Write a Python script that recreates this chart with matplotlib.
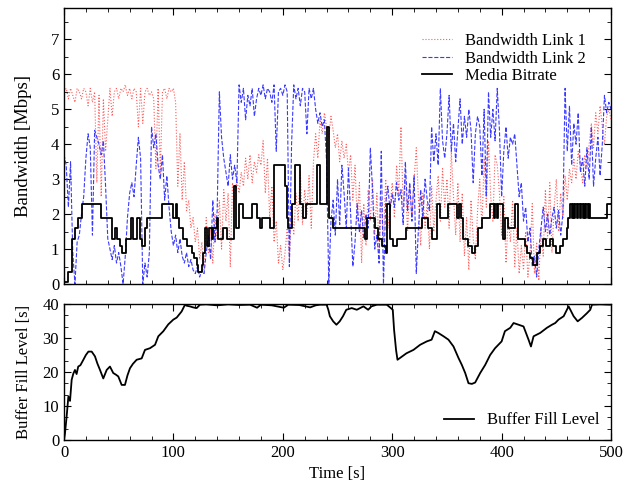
import matplotlib
matplotlib.use('Agg')
import matplotlib.pyplot as plt
import numpy as np
from matplotlib.ticker import MultipleLocator, AutoMinorLocator

plt.rcParams['font.family'] = 'Liberation Serif'
plt.rcParams['font.size'] = 12

# bandwidth samples, every 2 s from 0 to 500
bw_time = list(range(0, 501, 2))
bw_link1 = [
    5.5, 5.6, 5.3, 5.6, 5.4, 5.2, 5.6, 5.5, 5.3, 5.6,
    5.5, 5.1, 5.6, 5.2, 5.5, 2.9, 5.4, 2.5, 5.3, 3.8,
    4.7, 5.6, 4.8, 5.5, 5.6, 5.3, 5.6, 5.5, 5.7, 5.4,
    5.6, 5.3, 5.6, 5.5, 4.5, 5.6, 4.6, 5.5, 5.6, 5.4,
    5.5, 5.3, 3.3, 5.6, 3.2, 5.5, 5.6, 5.3, 5.6, 5.5,
    5.6, 5.2, 2.8, 4.3, 2.4, 3.5, 2.1, 2.4, 1.6, 1.9,
    1.2, 1.6, 0.7, 1.2, 0.4, 1.9, 0.9, 1.6, 0.6, 2.0,
    1.3, 2.4, 1.0, 2.7, 1.8, 2.6, 0.5, 2.9, 2.4, 3.0,
    2.6, 3.2, 2.8, 3.6, 3.0, 3.7, 2.9, 3.5, 3.2, 3.7,
    3.4, 4.1, 2.6, 3.6, 1.9, 2.8, 1.2, 1.8, 0.6, 1.1,
    0.4, 0.9, 1.6, 0.7, 2.2, 1.4, 2.6, 1.8, 3.2, 1.7,
    2.7, 2.0, 3.1, 1.6, 3.5, 4.3, 3.6, 4.7, 4.3, 4.9,
    4.5, 4.2, 4.8, 4.4, 3.9, 4.3, 3.5, 4.1, 3.6, 4.0,
    3.2, 3.7, 2.4, 3.4, 1.8, 2.9, 0.6, 2.3, 1.1, 2.7,
    1.8, 3.0, 1.4, 2.6, 0.9, 2.4, 1.2, 3.0, 1.6, 2.2,
    2.9, 1.9, 3.4, 2.6, 4.5, 2.2, 3.1, 1.5, 2.8, 2.0,
    3.0, 3.9, 2.4, 1.1, 2.6, 1.6, 2.3, 1.0, 2.8, 1.5,
    2.4, 3.1, 1.8, 3.3, 2.2, 3.0, 1.6, 3.8, 2.5, 1.4,
    2.9, 1.2, 2.6, 0.8, 1.9, 0.4, 2.4, 1.3, 0.7, 2.1,
    3.0, 1.6, 3.6, 2.2, 4.1, 2.5, 1.8, 3.7, 3.4, 2.6,
    1.4, 2.5, 0.6, 1.9, 1.2, 2.4, 0.5, 1.6, 0.3, 1.1,
    0.4, 1.5, 0.2, 0.9, 2.3, 0.3, 1.2, 0.1, 1.6, 0.8,
    2.7, 1.3, 2.9, 0.9, 2.2, 3.0, 1.5, 2.6, 1.9, 3.1,
    2.4, 3.3, 2.9, 3.6, 3.0, 3.8, 3.4, 2.9, 3.7, 3.3,
    4.0, 4.6, 3.9, 4.9, 4.3, 5.1, 4.5, 4.0, 4.8, 5.0,
    4.7,
]
bw_link2 = [
    3.7, 3.4, 2.2, 3.5, 0.9, 0.0, 1.2, 1.4, 2.0, 2.5,
    3.6, 4.3, 3.9, 1.4, 4.4, 4.2, 4.0, 3.7, 4.1, 2.8,
    1.3, 1.0, 0.7, 1.1, 0.6, 0.9, 0.5, 0.0, 0.8, 1.9,
    2.6, 2.9, 2.5, 3.4, 4.2, 3.6, 0.0, 0.6, 0.2, 0.9,
    4.5, 3.9, 4.3, 3.4, 3.0, 3.7, 2.4, 3.1, 2.2, 1.5,
    1.1, 1.4, 0.9, 1.3, 0.8, 0.6, 0.9, 0.5, 0.7, 0.4,
    0.3, 0.5, 0.2, 0.4, 0.3, 0.9, 1.4, 0.7, 2.4, 1.2,
    2.1, 5.5, 4.2, 3.6, 3.2, 2.8, 3.7, 3.0, 3.4, 2.9,
    5.7, 5.2, 5.6, 4.7, 5.4, 5.1, 5.6, 4.8, 5.3, 5.6,
    5.4, 5.7, 5.3, 5.6, 5.5, 5.2, 5.7, 3.8, 5.5, 5.6,
    5.4, 5.7, 5.5, 0.5, 4.0, 5.7, 5.3, 5.6, 5.1, 5.6,
    5.5, 4.3, 5.6, 5.3, 5.6, 5.0, 4.6, 4.9, 4.5, 4.7,
    3.5, 0.0, 1.8, 2.4, 1.4, 3.0, 1.7, 3.4, 2.6, 1.6,
    3.3, 2.0, 0.5, 1.2, 2.3, 1.5, 2.1, 1.3, 2.0, 1.6,
    3.9, 2.7, 1.0, 1.4, 0.6, 3.8, 0.0, 2.3, 2.8, 2.1,
    2.6, 2.2, 2.9, 2.4, 2.7, 1.7, 3.5, 2.1, 2.9, 1.8,
    3.1, 0.3, 1.6, 2.7, 1.9, 3.0, 2.4, 2.1, 4.5, 3.5,
    4.3, 3.4, 5.6, 4.1, 3.6, 4.3, 5.4, 3.8, 4.6, 3.5,
    4.4, 5.3, 4.0, 4.8, 4.2, 5.0, 4.4, 2.9, 4.3, 4.8,
    4.5, 3.1, 5.0, 2.5, 5.5, 4.2, 5.0, 4.1, 5.6, 4.4,
    2.5, 3.8, 4.5, 3.6, 4.2, 4.0, 4.3, 3.4, 2.5, 2.9,
    1.8, 2.2, 1.2, 1.6, 0.5, 0.8, 0.2, 1.0, 1.6, 2.2,
    1.5, 2.0, 1.4, 1.9, 2.2, 1.6, 2.1, 1.4, 2.0, 5.6,
    3.8, 5.1, 3.4, 4.6, 4.0, 4.9, 3.2, 3.6, 2.8, 3.9,
    3.0, 4.5, 2.8, 3.6, 4.2, 3.1, 4.0, 5.4, 4.9, 5.2,
    5.0,
]

# media bitrate: switch times [s] and level [Mbps]
br_time = [
    0, 4, 7, 10.5, 13, 16, 33.5, 43.6, 46.6, 48.8,
    51.2, 52.7, 56.7, 60.9, 62.8, 67, 69.5, 71, 74, 76.2,
    89.3, 100, 102.4, 103.6, 105.4, 108.5, 112.2, 116.7, 118.9, 121.3,
    122.8, 125.9, 127.4, 129, 131.1, 132.9, 135, 136.5, 139.6, 141.1,
    145.7, 149.4, 155, 157.5, 160.3, 164, 171.6, 176.1, 179.2, 180.7,
    188.3, 192, 202, 203.5, 205, 208, 211, 215.7, 218.8, 221.2,
    231.6, 234, 240, 242.5, 246, 275.2, 277.3, 284.3, 287.4, 290.4,
    294.4, 295.5, 298, 301, 304, 313, 327, 333, 336, 340.7,
    343.8, 351, 359, 361, 363, 365, 369.7, 372.7, 375.8, 378.8,
    381.9, 389.5, 392.6, 394, 396, 397, 401.6, 403, 406, 412.2,
    415.3, 421.4, 423, 426, 429, 432, 435, 438, 441, 444,
    447, 450, 453, 456.5, 459.5, 461, 462.6, 464, 465, 466.5,
    467.5, 469, 470, 471.5, 472.5, 474, 475, 476.5, 477.5, 479,
    480, 481, 496, 500,
]
br_rate = [
    0.07, 0.35, 1.3, 1.6, 1.9, 2.3, 1.9, 1.3, 1.6, 1.3,
    1.1, 0.9, 1.3, 1.9, 1.3, 1.9, 1.3, 1.1, 1.6, 1.9,
    2.3, 1.9, 2.3, 1.9, 1.6, 1.3, 1.1, 0.9, 0.75, 0.55,
    0.35, 0.55, 0.9, 1.6, 1.1, 1.6, 1.3, 1.6, 1.9, 1.3,
    1.6, 1.3, 2.8, 1.6, 2.3, 1.9, 2.3, 1.9, 1.6, 1.9,
    1.6, 3.4, 2.8, 1.9, 1.6, 2.3, 3.4, 2.3, 1.9, 2.3,
    3.4, 2.3, 4.5, 1.9, 1.6, 1.3, 1.9, 1.6, 1.3, 1.1,
    0.9, 2.3, 1.3, 1.1, 1.3, 1.6, 1.9, 1.6, 1.3, 2.3,
    1.9, 2.3, 1.9, 2.3, 1.9, 1.3, 1.1, 0.9, 1.1, 1.6,
    1.9, 2.3, 1.9, 2.3, 1.9, 2.3, 1.3, 1.9, 1.6, 2.3,
    1.3, 1.1, 0.9, 0.75, 0.55, 0.9, 1.1, 1.3, 1.1, 1.3,
    1.1, 0.9, 1.1, 1.3, 1.6, 1.9, 2.3, 1.9, 2.3, 1.9,
    2.3, 1.9, 2.3, 1.9, 2.3, 1.9, 2.3, 1.9, 2.3, 1.9,
    2.3, 1.9, 2.3, 2.3,
]

# buffer fill level [s]
buf_time = [
    0, 0.9, 2.4, 4, 5.5, 7, 8.5, 10, 11.5, 13,
    15, 17.7, 20, 22.3, 25.3, 28.3, 30.5, 32.9, 35.9, 39,
    42, 45, 47.5, 49.6, 52.7, 55.7, 58, 60.3, 63, 66.4,
    71, 74, 78.6, 83.2, 86.2, 90.8, 95.3, 99.9, 103, 107.5,
    110.6, 112, 115, 118, 121.3, 124.3, 130, 140, 150, 160,
    170, 176.5, 180, 190, 200.9, 205, 215, 225, 230, 234,
    240, 241.6, 243, 246, 249, 252, 255, 258, 263, 267.6,
    273.7, 278, 281, 286, 295, 298.7, 300.5, 301.7, 303.5, 304.8,
    307, 313, 319.4, 325.5, 331.6, 336, 339, 342, 346.9, 351.4,
    356, 360.6, 363.6, 366.7, 369.7, 372.8, 375.8, 380.4, 385, 389.5,
    394, 400, 403, 407.9, 410.9, 415.5, 420, 424.6, 426.8, 429.2,
    435.3, 441.4, 446, 449, 452, 456.7, 461.2, 462.8, 465.8, 469.5,
    473.4, 478, 481, 482.6, 490, 499,
]
buf_level = [
    0, 2.0, 6.9, 12.8, 11.5, 17.7, 19.5, 20.6, 19.4, 21.6,
    22.0, 23.6, 25.0, 26.0, 26.0, 24.6, 22.5, 20.6, 18.1, 20.6,
    21.6, 19.7, 19.2, 18.7, 16.2, 16.2, 19.0, 21.1, 22.4, 23.6,
    24.0, 26.5, 27.0, 28.0, 30.5, 32.0, 34.0, 35.4, 36.0, 37.8,
    39.8, 39.5, 39.3, 39.0, 38.8, 39.8, 39.9, 39.6, 39.9, 39.7,
    39.8, 38.9, 39.8, 39.6, 38.9, 39.8, 39.7, 39.0, 39.6, 39.8,
    39.8, 38.3, 36.4, 34.9, 33.9, 34.9, 36.4, 38.3, 38.8, 38.3,
    39.3, 38.3, 39.3, 39.8, 39.8, 38.8, 38.3, 32.4, 26.5, 23.6,
    24.1, 25.5, 26.5, 28.0, 29.0, 29.5, 32.0, 31.5, 30.5, 29.5,
    27.5, 24.1, 22.1, 19.7, 16.7, 16.5, 16.9, 19.7, 22.1, 25.0,
    27.0, 29.0, 32.0, 33.0, 34.4, 33.9, 33.4, 29.5, 27.5, 30.5,
    31.5, 33.0, 33.9, 34.4, 35.4, 36.4, 39.3, 38.3, 36.4, 34.9,
    35.9, 37.3, 38.3, 39.8, 39.9, 39.8,
]

fig = plt.figure(figsize=(6.3, 4.87), dpi=100)
ax1 = fig.add_axes([0.1016, 0.4168, 0.8683, 0.5668])
ax2 = fig.add_axes([0.1016, 0.0965, 0.8683, 0.2793])

ax1.plot(bw_time, bw_link1, color='#ff5a5a', ls=':', lw=0.8, label='Bandwidth Link 1')
ax1.plot(bw_time, bw_link2, color='#3a3aff', ls='--', lw=0.8, label='Bandwidth Link 2')
ax1.step(br_time, br_rate, where='post', color='black', lw=1.3, label='Media Bitrate')
ax1.set_xlim(0, 500)
ax1.set_ylim(0, 7.9)
ax1.set_ylabel('Bandwidth [Mbps]', fontsize=13.5)
ax1.set_xticklabels([])
ax1.yaxis.set_major_locator(MultipleLocator(1))
ax1.yaxis.set_minor_locator(MultipleLocator(0.5))
ax1.legend(loc='upper right', frameon=False, handlelength=1.8, labelspacing=0.1,
           borderaxespad=1.1)

ax2.plot(buf_time, buf_level, color='black', lw=1.3, label='Buffer Fill Level')
ax2.set_xlim(0, 500)
ax2.set_ylim(0, 40)
ax2.set_ylabel('Buffer Fill Level [s]')
ax2.set_xlabel('Time [s]')
ax2.yaxis.set_major_locator(MultipleLocator(10))
ax2.yaxis.set_minor_locator(AutoMinorLocator(3))
ax2.legend(loc='lower right', frameon=False, handlelength=1.8, borderaxespad=0.3)

for ax in (ax1, ax2):
    ax.xaxis.set_major_locator(MultipleLocator(100))
    ax.xaxis.set_minor_locator(MultipleLocator(20))
    ax.tick_params(which='both', direction='in', top=True, right=True)
    ax.tick_params(which='major', length=5)
    ax.tick_params(which='minor', length=3)
    ax.yaxis.set_label_coords(-0.058, 0.5)
    for s in ax.spines.values():
        s.set_linewidth(1.0)

fig.savefig('out.png', dpi=100)
